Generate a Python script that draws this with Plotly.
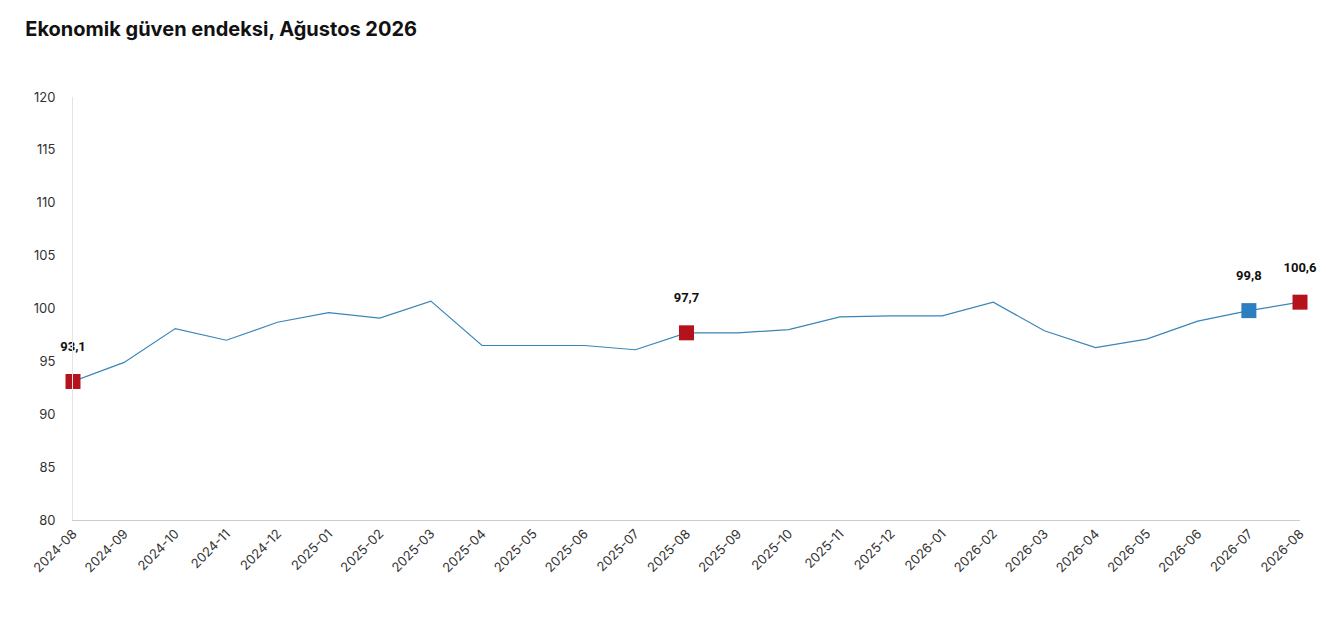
import plotly.graph_objects as go

months = ["2024-08","2024-09","2024-10","2024-11","2024-12","2025-01","2025-02","2025-03",
          "2025-04","2025-05","2025-06","2025-07","2025-08","2025-09","2025-10","2025-11",
          "2025-12","2026-01","2026-02","2026-03","2026-04","2026-05","2026-06","2026-07","2026-08"]
values = [93.1,94.9,98.1,97.0,98.7,99.6,99.1,100.7,96.5,96.5,96.5,96.1,97.7,97.7,98.0,99.2,
          99.3,99.3,100.6,97.9,96.3,97.1,98.8,99.8,100.6]
hl_months = ["2024-08","2025-08","2026-07","2026-08"]
hl_colors = ["#b5121b","#b5121b","#2e7fbf","#b5121b"]
hl_values = [values[months.index(m)] for m in hl_months]
hl_labels = [f"{v:.1f}".replace(".", ",") for v in hl_values]

fig = go.Figure()
fig.add_trace(go.Scatter(x=months, y=values, mode="lines",
                         line=dict(color="#3a85b8", width=1.2), hoverinfo="skip"))
fig.add_trace(go.Scatter(x=hl_months, y=hl_values, mode="markers+text", cliponaxis=False,
                         marker=dict(symbol="square", size=15, color=hl_colors),
                         text=hl_labels, textposition="top center",
                         textfont=dict(family="Roboto", size=13, color="#111"),
                         texttemplate="<b>%{text}</b><br> "))
fig.update_layout(
    width=1326, height=625, showlegend=False,
    paper_bgcolor="white", plot_bgcolor="white",
    margin=dict(l=65, r=34, t=89, b=113),
    title=dict(text="<b>Ekonomik güven endeksi, Ağustos 2026</b>", x=0.013, y=0.978,
               xanchor="left", font=dict(family="Inter", size=20, color="#111")),
    font=dict(family="Inter", size=13, color="#333"),
)
fig.update_xaxes(type="category", range=[0, 24], showgrid=False, showline=True,
                 linecolor="#ccc", ticks="", tickangle=-45, tickfont=dict(size=13))
fig.update_yaxes(range=[80, 120], dtick=5, showgrid=False, showline=True,
                 linecolor="#e3e3e3", zeroline=False, ticks="", ticklabelstandoff=14,
                 tickfont=dict(size=13))
fig.write_html("out.html")
